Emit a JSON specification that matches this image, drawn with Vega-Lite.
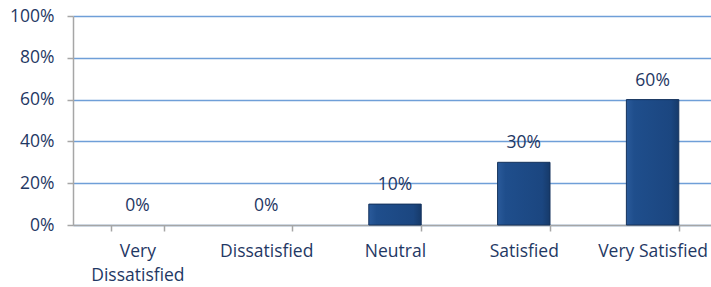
{
  "$schema": "https://vega.github.io/schema/vega-lite/v6.json",
  "width": 644,
  "height": 209,
  "autosize": "none",
  "padding": {"left": 73, "top": 16, "right": 0, "bottom": 62},
  "background": "white",
  "config": {"view": {"stroke": null}, "font": "Open Sans"},
  "data": {"values": [
    {"category": "Very Dissatisfied", "value": 0},
    {"category": "Dissatisfied", "value": 0},
    {"category": "Neutral", "value": 0.1},
    {"category": "Satisfied", "value": 0.3},
    {"category": "Very Satisfied", "value": 0.6}
  ]},
  "encoding": {
    "x": {"field": "category", "type": "nominal",
      "sort": ["Very Dissatisfied", "Dissatisfied", "Neutral", "Satisfied", "Very Satisfied"],
      "scale": {"paddingInner": 0.593, "paddingOuter": 0.2965},
      "axis": {"title": null, "labelAngle": 0, "labelFontSize": 17.5, "labelColor": "#1f3864",
        "domainColor": "#a6a6a6", "domainWidth": 1.5, "tickColor": "#a6a6a6", "tickWidth": 1.5, "tickSize": 6, "tickBand": "extent",
        "labelPadding": 11, "labelLineHeight": 24,
        "labelExpr": "datum.label == 'Very Dissatisfied' ? ['Very', 'Dissatisfied'] : datum.label"}},
    "y": {"field": "value", "type": "quantitative",
      "scale": {"domain": [0, 1]},
      "axis": {"title": null, "format": ".0%", "values": [0, 0.2, 0.4, 0.6, 0.8, 1],
        "labelFontSize": 17.5, "labelColor": "#1f3864", "labelPadding": 13,
        "domainColor": "#a6a6a6", "domainWidth": 1.5, "tickColor": "#a6a6a6", "tickWidth": 1.5, "tickSize": 6,
        "gridColor": "#6f9fd8", "gridWidth": 1.5}}
  },
  "layer": [
    {"transform": [{"filter": "datum.value > 0"}],
     "mark": {"type": "bar", "stroke": "#14325c", "strokeWidth": 1,
      "color": {"gradient": "linear", "x1": 0, "y1": 0, "x2": 1, "y2": 0,
        "stops": [{"offset": 0, "color": "#2a5a9a"}, {"offset": 0.15, "color": "#1f4e8c"}, {"offset": 0.85, "color": "#1b4680"}, {"offset": 1, "color": "#163a6a"}]}}},
    {"mark": {"type": "text", "baseline": "middle", "dy": -19, "fontSize": 17.5, "color": "#1f3864"},
      "encoding": {"text": {"field": "value", "type": "quantitative", "format": ".0%"}}}
  ]
}
